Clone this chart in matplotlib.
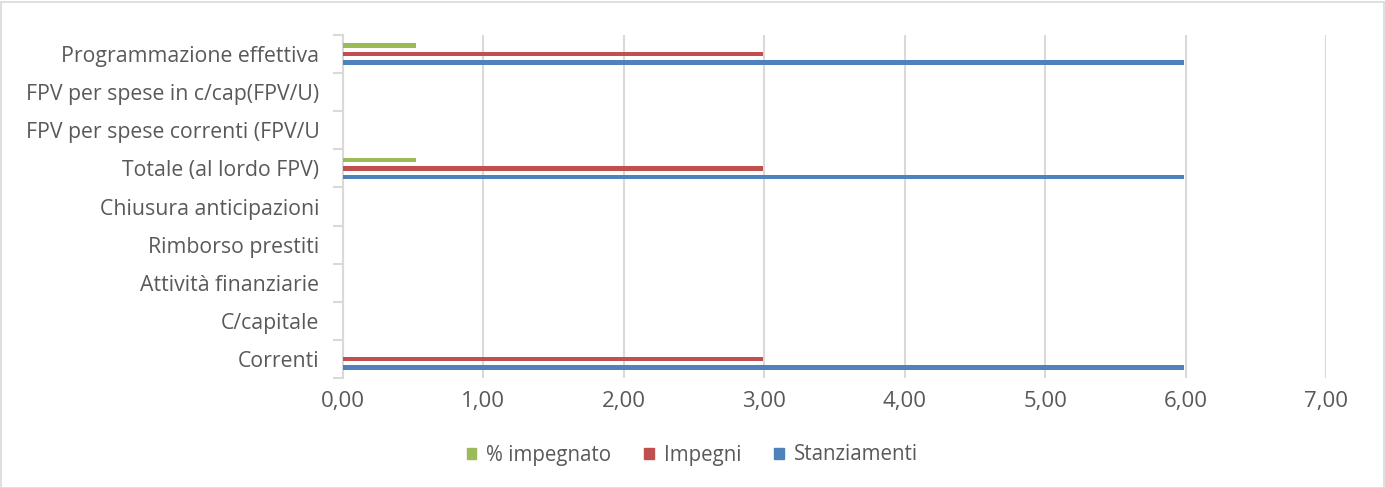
import numpy as np
import matplotlib.pyplot as plt
from matplotlib.patches import Patch, Rectangle

# Data (bottom to top, as drawn)
categories = ['Correnti', 'C/capitale', 'Attività finanziarie', 'Rimborso prestiti',
              'Chiusura anticipazioni', 'Totale (al lordo FPV)',
              'FPV per spese correnti (FPV/U', 'FPV per spese in c/cap(FPV/U)',
              'Programmazione effettiva']
stanziamenti = [5.99, 0, 0, 0, 0, 5.99, 0, 0, 5.99]
impegni = [2.99, 0, 0, 0, 0, 2.99, 0, 0, 2.99]
impegnato_pct = [0, 0, 0, 0, 0, 0.52, 0, 0, 0.52]
xticks = [0, 1, 2, 3, 4, 5, 6, 7]

blue = '#4F81BD'
red = '#C0504D'
green = '#9BBB59'
text_col = '#595959'
grid_col = '#D9D9D9'

plt.rcParams['font.family'] = ['Open Sans', 'DejaVu Sans']

fig = plt.figure(figsize=(13.85, 4.88), dpi=100)
ax = fig.add_axes([343 / 1385, 110 / 488, 983 / 1385, 343 / 488])

y = np.arange(len(categories))
h = 0.12
gap = 0.225
ax.barh(y - gap, stanziamenti, height=h, color=blue, linewidth=0, zorder=3)
ax.barh(y, impegni, height=h, color=red, linewidth=0, zorder=3)
ax.barh(y + gap, impegnato_pct, height=h, color=green, linewidth=0, zorder=3)

ax.set_xlim(0, 7)
ax.set_ylim(-0.5, len(categories) - 0.5)
ax.set_xticks(xticks)
ax.set_xticklabels([f'{v:.2f}'.replace('.', ',') for v in xticks])
ax.set_yticks(y)
ax.set_yticklabels(categories)
ax.set_yticks(np.arange(-0.5, len(categories), 1), minor=True)

ax.grid(axis='x', color=grid_col, linewidth=1.5, zorder=0)
for s in ['top', 'right', 'bottom']:
    ax.spines[s].set_visible(False)
ax.spines['left'].set_color(grid_col)
ax.spines['left'].set_linewidth(1.5)

ax.tick_params(axis='y', which='major', length=0, pad=17, labelsize=15.3, labelcolor=text_col)
ax.tick_params(axis='y', which='minor', length=7, width=1.5, color=grid_col)
ax.tick_params(axis='x', length=0, pad=9, labelsize=16, labelcolor=text_col)

handles = [Patch(color=green, label='% impegnato'),
           Patch(color=red, label='Impegni'),
           Patch(color=blue, label='Stanziamenti')]
fig.legend(handles=handles, loc='center', bbox_to_anchor=(0.5, 1 - 455 / 488), ncol=3,
           frameon=False, fontsize=14.8, labelcolor=text_col, handlelength=0.45,
           handleheight=0.45, handletextpad=0.5, columnspacing=1.6)

fig.patches.append(Rectangle((0.5 / 1385, 0.5 / 488), 1 - 2 / 1385, 1 - 2 / 488,
                             transform=fig.transFigure, fill=False,
                             edgecolor=grid_col, linewidth=1.2))

fig.savefig('out.png', dpi=100)
